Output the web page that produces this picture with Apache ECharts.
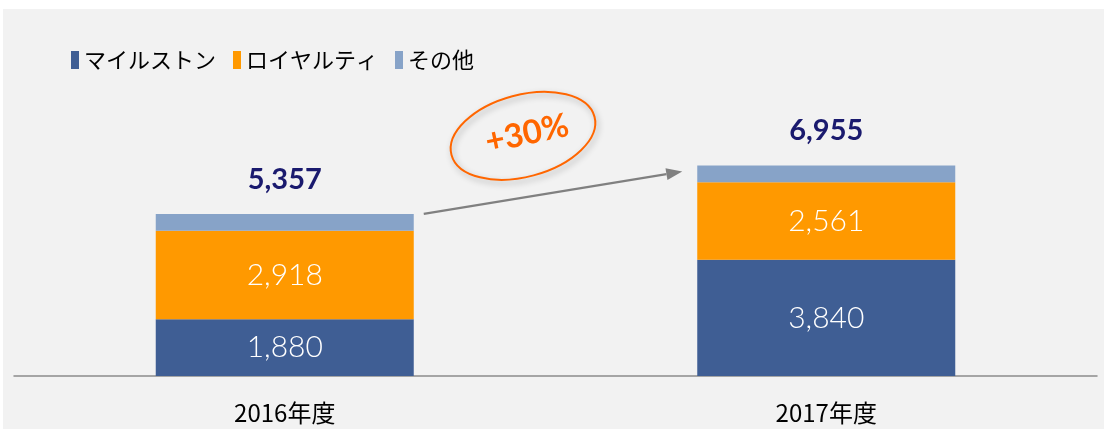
<!DOCTYPE html>
<html>
<head>
<meta charset="utf-8">
<script src="https://cdn.jsdelivr.net/npm/echarts@6/dist/echarts.min.js"></script>
<style>
  html, body { margin: 0; padding: 0; background: #ffffff; }
  #bg { position: absolute; left: 3px; top: 9px; width: 1101px; height: 420px; background: #f2f2f2; }
  #chart { position: absolute; left: 0; top: 0; width: 1104px; height: 429px; }
</style>
</head>
<body>
<div id="bg"></div>
<div id="chart"></div>
<script>
const categories = ['2016年度', '2017年度'];
const legendNames = ['マイルストン', 'ロイヤルティ', 'その他'];
const milestone = [1880, 3840];
const royalty = [2918, 2561];
const other = [559, 554];
const totals = [5357, 6955];
const growthLabel = '+30%';

const colors = ['#3F5E94', '#FF9900', '#87A3C8'];
const barW = 258;
const fmt = v => Number(v).toLocaleString('en-US');

const chart = echarts.init(document.getElementById('chart'), null, { renderer: 'canvas' });

const insideLabel = {
  show: true,
  position: 'inside',
  color: '#ffffff',
  fontSize: 30,
  fontFamily: 'Lato',
  fontWeight: 300,
  formatter: p => fmt(p.value)
};

const option = {
  backgroundColor: 'transparent',
  animation: false,
  legend: {
    data: legendNames,
    left: 66,
    top: 44,
    icon: 'rect',
    itemWidth: 8,
    itemHeight: 18,
    itemGap: 17,
    textStyle: { fontSize: 22, color: '#000000', fontFamily: 'Noto Sans CJK JP' }
  },
  grid: { left: 14, right: 7, top: 134, bottom: 53 },
  xAxis: {
    type: 'category',
    data: categories,
    axisLine: { lineStyle: { color: '#8c8c8c', width: 1.5 } },
    axisTick: { show: false },
    axisLabel: { fontSize: 24, color: '#000000', margin: 25, fontFamily: 'Noto Sans CJK JP' }
  },
  yAxis: {
    type: 'value',
    min: 0,
    max: 8000,
    show: false,
    splitLine: { show: false }
  },
  series: [
    {
      name: legendNames[0], type: 'bar', stack: 'total', barWidth: barW,
      data: milestone, itemStyle: { color: colors[0] }, label: insideLabel
    },
    {
      name: legendNames[1], type: 'bar', stack: 'total', barWidth: barW,
      data: royalty, itemStyle: { color: colors[1] }, label: insideLabel
    },
    {
      name: legendNames[2], type: 'bar', stack: 'total', barWidth: barW,
      data: other, itemStyle: { color: colors[2] },
      label: {
        show: true,
        position: 'top',
        distance: 20,
        color: '#1a1a6e',
        fontSize: 29,
        fontWeight: 'bold',
        fontFamily: 'Lato',
        formatter: p => fmt(totals[p.dataIndex])
      }
    }
  ]
};

chart.setOption(option);

// Annotation: arrow between bar tops and growth ellipse
const p0 = chart.convertToPixel({ gridIndex: 0 }, [categories[0], totals[0]]);
const p1 = chart.convertToPixel({ gridIndex: 0 }, [categories[1], totals[1]]);
const start = [p0[0] + barW / 2 + 10, p0[1]];
const end = [p1[0] - barW / 2 - 15, p1[1] + 6];
const dx = end[0] - start[0], dy = end[1] - start[1];
const len = Math.sqrt(dx * dx + dy * dy);
const ux = dx / len, uy = dy / len;
const headL = 16, headW = 6;
const base = [end[0] - ux * headL, end[1] - uy * headL];
const left = [base[0] - uy * headW, base[1] + ux * headW];
const right = [base[0] + uy * headW, base[1] - ux * headW];
const mid = [(start[0] + end[0]) / 2, (start[1] + end[1]) / 2];
const ell = [mid[0] - 30, mid[1] - 57];

chart.setOption({
  graphic: [
    {
      type: 'line',
      shape: { x1: start[0], y1: start[1], x2: base[0], y2: base[1] },
      style: { stroke: '#808080', lineWidth: 2.2 },
      z: 10
    },
    {
      type: 'polygon',
      shape: { points: [end, left, right] },
      style: { fill: '#808080' },
      z: 10
    },
    {
      type: 'ellipse',
      x: ell[0], y: ell[1],
      rotation: 15 * Math.PI / 180,
      shape: { cx: 0, cy: 0, rx: 74, ry: 41 },
      style: {
        fill: 'transparent', stroke: '#FF6600', lineWidth: 2,
        shadowBlur: 6, shadowColor: 'rgba(0,0,0,0.3)', shadowOffsetX: 2, shadowOffsetY: 3
      },
      z: 10
    },
    {
      type: 'text',
      x: ell[0] + 4, y: ell[1] - 2,
      rotation: 12 * Math.PI / 180,
      style: {
        text: growthLabel, fill: '#FF6600', fontSize: 33, fontWeight: 'bold',
        fontFamily: 'Lato', align: 'center', verticalAlign: 'middle'
      },
      z: 11
    }
  ]
});
</script>
</body>
</html>
